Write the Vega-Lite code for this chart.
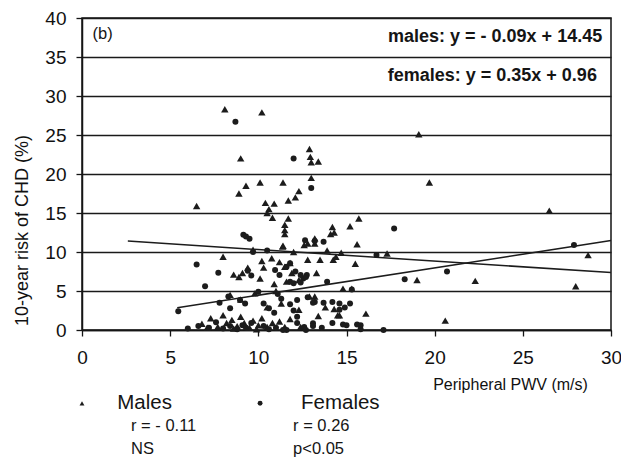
{
  "$schema": "https://vega.github.io/schema/vega-lite/v6.json",
  "width": 529,
  "height": 312,
  "autosize": "none",
  "padding": {"left": 82, "top": 18, "right": 10, "bottom": 136},
  "background": "white",
  "datasets": {
    "subjects": [
      {"sex": "Males", "pwv": 8.1, "risk": 28.3}, {"sex": "Males", "pwv": 10.2, "risk": 27.9},
      {"sex": "Males", "pwv": 9.0, "risk": 22.0}, {"sex": "Males", "pwv": 12.9, "risk": 23.2},
      {"sex": "Males", "pwv": 12.95, "risk": 22.2}, {"sex": "Males", "pwv": 13.0, "risk": 21.5},
      {"sex": "Males", "pwv": 13.4, "risk": 21.6}, {"sex": "Males", "pwv": 13.0, "risk": 19.5},
      {"sex": "Males", "pwv": 6.5, "risk": 15.9}, {"sex": "Males", "pwv": 8.9, "risk": 17.5},
      {"sex": "Males", "pwv": 9.3, "risk": 18.5}, {"sex": "Males", "pwv": 10.1, "risk": 18.9},
      {"sex": "Males", "pwv": 11.4, "risk": 18.9}, {"sex": "Males", "pwv": 11.7, "risk": 16.6},
      {"sex": "Males", "pwv": 12.1, "risk": 17.0}, {"sex": "Males", "pwv": 12.3, "risk": 17.8},
      {"sex": "Males", "pwv": 10.4, "risk": 16.3}, {"sex": "Males", "pwv": 10.9, "risk": 16.2},
      {"sex": "Males", "pwv": 10.6, "risk": 15.5}, {"sex": "Males", "pwv": 10.5, "risk": 15.0},
      {"sex": "Males", "pwv": 10.8, "risk": 14.4}, {"sex": "Males", "pwv": 11.7, "risk": 14.3},
      {"sex": "Males", "pwv": 11.5, "risk": 13.5}, {"sex": "Males", "pwv": 11.5, "risk": 12.8},
      {"sex": "Males", "pwv": 11.5, "risk": 12.3}, {"sex": "Males", "pwv": 14.2, "risk": 13.2},
      {"sex": "Males", "pwv": 14.3, "risk": 12.5}, {"sex": "Males", "pwv": 15.2, "risk": 13.3},
      {"sex": "Males", "pwv": 15.7, "risk": 14.3}, {"sex": "Males", "pwv": 15.6, "risk": 11.0},
      {"sex": "Males", "pwv": 11.4, "risk": 10.8}, {"sex": "Males", "pwv": 8.0, "risk": 9.4},
      {"sex": "Males", "pwv": 8.9, "risk": 6.8}, {"sex": "Males", "pwv": 19.1, "risk": 25.1},
      {"sex": "Males", "pwv": 19.7, "risk": 18.9}, {"sex": "Males", "pwv": 26.5, "risk": 15.3},
      {"sex": "Males", "pwv": 17.3, "risk": 9.8}, {"sex": "Males", "pwv": 19.0, "risk": 6.4},
      {"sex": "Males", "pwv": 22.3, "risk": 6.3}, {"sex": "Males", "pwv": 20.6, "risk": 1.2},
      {"sex": "Males", "pwv": 28.0, "risk": 5.6}, {"sex": "Males", "pwv": 28.7, "risk": 9.6},
      {"sex": "Males", "pwv": 16.1, "risk": 2.1}, {"sex": "Males", "pwv": 14.8, "risk": 5.3},
      {"sex": "Males", "pwv": 15.3, "risk": 5.3}, {"sex": "Males", "pwv": 14.4, "risk": 9.4},
      {"sex": "Males", "pwv": 14.6, "risk": 1.9}, {"sex": "Males", "pwv": 9.4, "risk": 8.0},
      {"sex": "Males", "pwv": 10.2, "risk": 8.85}, {"sex": "Males", "pwv": 10.3, "risk": 8.0},
      {"sex": "Males", "pwv": 10.76, "risk": 9.2}, {"sex": "Males", "pwv": 11.2, "risk": 8.7},
      {"sex": "Males", "pwv": 11.5, "risk": 8.1}, {"sex": "Males", "pwv": 11.8, "risk": 8.6},
      {"sex": "Males", "pwv": 11.38, "risk": 10.7}, {"sex": "Males", "pwv": 9.7, "risk": 10.3},
      {"sex": "Males", "pwv": 10.1, "risk": 6.6}, {"sex": "Males", "pwv": 10.9, "risk": 5.9},
      {"sex": "Males", "pwv": 11.6, "risk": 6.2}, {"sex": "Males", "pwv": 12.8, "risk": 9.0},
      {"sex": "Males", "pwv": 13.5, "risk": 9.0}, {"sex": "Males", "pwv": 14.25, "risk": 9.0},
      {"sex": "Males", "pwv": 13.3, "risk": 7.3}, {"sex": "Males", "pwv": 13.2, "risk": 11.75},
      {"sex": "Males", "pwv": 13.2, "risk": 11.1}, {"sex": "Males", "pwv": 14.1, "risk": 12.3},
      {"sex": "Males", "pwv": 15.5, "risk": 8.5}, {"sex": "Males", "pwv": 12.0, "risk": 10.0},
      {"sex": "Males", "pwv": 12.6, "risk": 10.9}, {"sex": "Males", "pwv": 11.9, "risk": 7.3},
      {"sex": "Males", "pwv": 12.3, "risk": 6.4}, {"sex": "Males", "pwv": 12.8, "risk": 11.1},
      {"sex": "Males", "pwv": 13.9, "risk": 10.2}, {"sex": "Males", "pwv": 14.7, "risk": 9.9},
      {"sex": "Males", "pwv": 8.6, "risk": 7.1}, {"sex": "Males", "pwv": 9.1, "risk": 7.3},
      {"sex": "Males", "pwv": 8.4, "risk": 4.5}, {"sex": "Males", "pwv": 9.0, "risk": 3.9},
      {"sex": "Males", "pwv": 9.8, "risk": 4.7}, {"sex": "Males", "pwv": 10.5, "risk": 2.9},
      {"sex": "Males", "pwv": 11.0, "risk": 5.0}, {"sex": "Males", "pwv": 11.3, "risk": 3.4},
      {"sex": "Males", "pwv": 12.3, "risk": 2.6}, {"sex": "Males", "pwv": 12.9, "risk": 4.3},
      {"sex": "Males", "pwv": 13.2, "risk": 4.3}, {"sex": "Males", "pwv": 13.8, "risk": 2.9},
      {"sex": "Males", "pwv": 14.3, "risk": 2.7}, {"sex": "Males", "pwv": 14.5, "risk": 1.9},
      {"sex": "Males", "pwv": 6.8, "risk": 0.8}, {"sex": "Males", "pwv": 7.3, "risk": 1.5},
      {"sex": "Males", "pwv": 7.7, "risk": 0.4}, {"sex": "Males", "pwv": 8.0, "risk": 1.9},
      {"sex": "Males", "pwv": 8.2, "risk": 0.9}, {"sex": "Males", "pwv": 8.5, "risk": 1.3},
      {"sex": "Males", "pwv": 8.8, "risk": 0.5}, {"sex": "Males", "pwv": 9.0, "risk": 1.7},
      {"sex": "Males", "pwv": 9.2, "risk": 0.9}, {"sex": "Males", "pwv": 9.5, "risk": 0.3},
      {"sex": "Males", "pwv": 9.7, "risk": 1.2}, {"sex": "Males", "pwv": 10.0, "risk": 0.6},
      {"sex": "Males", "pwv": 10.2, "risk": 1.5}, {"sex": "Males", "pwv": 10.5, "risk": 0.4},
      {"sex": "Males", "pwv": 10.8, "risk": 0.9}, {"sex": "Males", "pwv": 11.2, "risk": 1.1},
      {"sex": "Males", "pwv": 11.5, "risk": 0.4}, {"sex": "Males", "pwv": 11.8, "risk": 1.4},
      {"sex": "Males", "pwv": 12.4, "risk": 0.4}, {"sex": "Males", "pwv": 13.4, "risk": 1.8},
      {"sex": "Males", "pwv": 7.1, "risk": 0.3}, {"sex": "Males", "pwv": 8.6, "risk": 0.2},
      {"sex": "Males", "pwv": 9.9, "risk": 0.1},
      {"sex": "Females", "pwv": 8.7, "risk": 26.7}, {"sex": "Females", "pwv": 12.0, "risk": 22.0},
      {"sex": "Females", "pwv": 13.0, "risk": 18.2}, {"sex": "Females", "pwv": 17.7, "risk": 13.0},
      {"sex": "Females", "pwv": 27.9, "risk": 10.9}, {"sex": "Females", "pwv": 18.3, "risk": 6.5},
      {"sex": "Females", "pwv": 20.7, "risk": 7.5}, {"sex": "Females", "pwv": 16.7, "risk": 9.6},
      {"sex": "Females", "pwv": 17.1, "risk": 0.0}, {"sex": "Females", "pwv": 15.0, "risk": 0.6},
      {"sex": "Females", "pwv": 15.8, "risk": 0.6}, {"sex": "Females", "pwv": 15.8, "risk": 0.1},
      {"sex": "Females", "pwv": 15.2, "risk": 3.4}, {"sex": "Females", "pwv": 14.9, "risk": 2.9},
      {"sex": "Females", "pwv": 14.6, "risk": 2.6}, {"sex": "Females", "pwv": 15.3, "risk": 5.2},
      {"sex": "Females", "pwv": 9.15, "risk": 12.2}, {"sex": "Females", "pwv": 9.5, "risk": 11.7},
      {"sex": "Females", "pwv": 9.3, "risk": 12.0}, {"sex": "Females", "pwv": 6.5, "risk": 8.4},
      {"sex": "Females", "pwv": 7.73, "risk": 7.35}, {"sex": "Females", "pwv": 6.98, "risk": 5.6},
      {"sex": "Females", "pwv": 5.46, "risk": 2.4}, {"sex": "Females", "pwv": 12.65, "risk": 11.5},
      {"sex": "Females", "pwv": 13.2, "risk": 11.4}, {"sex": "Females", "pwv": 13.7, "risk": 11.3},
      {"sex": "Females", "pwv": 12.55, "risk": 6.6}, {"sex": "Females", "pwv": 12.75, "risk": 7.05},
      {"sex": "Females", "pwv": 12.2, "risk": 3.85}, {"sex": "Females", "pwv": 13.2, "risk": 3.6},
      {"sex": "Females", "pwv": 13.7, "risk": 3.5}, {"sex": "Females", "pwv": 14.2, "risk": 3.6},
      {"sex": "Females", "pwv": 14.6, "risk": 3.4}, {"sex": "Females", "pwv": 13.1, "risk": 0.85},
      {"sex": "Females", "pwv": 12.6, "risk": 0.4}, {"sex": "Females", "pwv": 14.8, "risk": 0.7},
      {"sex": "Females", "pwv": 15.6, "risk": 0.7}, {"sex": "Females", "pwv": 9.7, "risk": 10.0},
      {"sex": "Females", "pwv": 9.4, "risk": 7.6}, {"sex": "Females", "pwv": 9.6, "risk": 7.0},
      {"sex": "Females", "pwv": 10.95, "risk": 7.7}, {"sex": "Females", "pwv": 11.2, "risk": 7.05},
      {"sex": "Females", "pwv": 11.6, "risk": 8.1}, {"sex": "Females", "pwv": 11.8, "risk": 8.55},
      {"sex": "Females", "pwv": 12.1, "risk": 7.5}, {"sex": "Females", "pwv": 12.4, "risk": 7.05},
      {"sex": "Females", "pwv": 12.7, "risk": 6.8}, {"sex": "Females", "pwv": 12.4, "risk": 6.1},
      {"sex": "Females", "pwv": 11.8, "risk": 6.2}, {"sex": "Females", "pwv": 12.0, "risk": 6.0},
      {"sex": "Females", "pwv": 8.3, "risk": 4.3}, {"sex": "Females", "pwv": 8.96, "risk": 3.85},
      {"sex": "Females", "pwv": 9.25, "risk": 3.4}, {"sex": "Females", "pwv": 10.0, "risk": 4.9},
      {"sex": "Females", "pwv": 10.3, "risk": 3.4}, {"sex": "Females", "pwv": 10.6, "risk": 2.8},
      {"sex": "Females", "pwv": 10.9, "risk": 2.2}, {"sex": "Females", "pwv": 11.1, "risk": 4.6},
      {"sex": "Females", "pwv": 11.3, "risk": 4.0}, {"sex": "Females", "pwv": 11.8, "risk": 3.3},
      {"sex": "Females", "pwv": 12.0, "risk": 2.5}, {"sex": "Females", "pwv": 12.2, "risk": 1.7},
      {"sex": "Females", "pwv": 12.8, "risk": 4.2}, {"sex": "Females", "pwv": 13.1, "risk": 3.5},
      {"sex": "Females", "pwv": 13.1, "risk": 0.5}, {"sex": "Females", "pwv": 12.7, "risk": 0.0},
      {"sex": "Females", "pwv": 11.6, "risk": 0.0}, {"sex": "Females", "pwv": 8.4, "risk": 2.8},
      {"sex": "Females", "pwv": 7.8, "risk": 3.5}, {"sex": "Females", "pwv": 6.0, "risk": 0.2},
      {"sex": "Females", "pwv": 6.6, "risk": 0.5}, {"sex": "Females", "pwv": 7.2, "risk": 0.3},
      {"sex": "Females", "pwv": 7.6, "risk": 1.0}, {"sex": "Females", "pwv": 8.0, "risk": 0.2},
      {"sex": "Females", "pwv": 8.4, "risk": 0.5}, {"sex": "Females", "pwv": 8.8, "risk": 0.1},
      {"sex": "Females", "pwv": 9.1, "risk": 0.6}, {"sex": "Females", "pwv": 9.3, "risk": 0.3},
      {"sex": "Females", "pwv": 9.6, "risk": 0.9}, {"sex": "Females", "pwv": 10.3, "risk": 0.5},
      {"sex": "Females", "pwv": 10.6, "risk": 0.1}, {"sex": "Females", "pwv": 11.0, "risk": 0.3},
      {"sex": "Females", "pwv": 11.4, "risk": 0.0}, {"sex": "Females", "pwv": 12.2, "risk": 0.9},
      {"sex": "Females", "pwv": 13.6, "risk": 0.3}, {"sex": "Females", "pwv": 14.2, "risk": 0.9},
      {"sex": "Females", "pwv": 10.5, "risk": 10.2}, {"sex": "Females", "pwv": 13.9, "risk": 6.2}
    ],
    "fits": [
      {"sex": "Males", "pwv": 2.6, "risk": 11.4},
      {"sex": "Males", "pwv": 30, "risk": 7.36},
      {"sex": "Females", "pwv": 5.4, "risk": 2.85},
      {"sex": "Females", "pwv": 30, "risk": 11.46}
    ],
    "equations": [
      {"label": "males: y = - 0.09x + 14.45", "pwv": 29.5, "risk": 37.6},
      {"label": "females: y = 0.35x + 0.96", "pwv": 29.2, "risk": 32.6}
    ],
    "panel": [
      {"label": "(b)", "pwv": 0.6, "risk": 38.0}
    ],
    "keys": [
      {"sex": "Males", "pwv": 0, "risk": -9.4},
      {"sex": "Females", "pwv": 10.1, "risk": -9.4}
    ],
    "keyNames": [
      {"label": "Males", "pwv": 2.0, "risk": -9.4},
      {"label": "Females", "pwv": 12.42, "risk": -9.4}
    ],
    "keyStats": [
      {"label": "r = - 0.11", "pwv": 2.78, "risk": -12.3},
      {"label": "r = 0.26", "pwv": 11.97, "risk": -12.3},
      {"label": "NS", "pwv": 2.78, "risk": -15.2},
      {"label": "p<0.05", "pwv": 11.97, "risk": -15.2}
    ]
  },
  "config": {
    "font": "Liberation Sans",
    "view": {"stroke": "#151515", "strokeWidth": 1.5},
    "axis": {
      "domainColor": "#151515",
      "domainWidth": 1.5,
      "tickColor": "#151515",
      "tickWidth": 1.3,
      "tickSize": 6,
      "labelColor": "#111111",
      "labelFontSize": 19,
      "labelFlush": false,
      "labelOverlap": false,
      "titleColor": "#111111",
      "titleFontWeight": "normal"
    }
  },
  "encoding": {
    "x": {
      "field": "pwv", "type": "quantitative",
      "scale": {"domain": [0, 30], "nice": false, "zero": false},
      "axis": {
        "values": [0, 5, 10, 15, 20, 25, 30],
        "grid": false,
        "labelPadding": 12,
        "title": "Peripheral PWV (m/s)",
        "titleColor": "#111111",
        "titleFontSize": 16,
        "titleX": 428,
        "titleY": 54,
        "titleAlign": "center",
        "titleBaseline": "middle"
      }
    },
    "y": {
      "field": "risk", "type": "quantitative",
      "scale": {"domain": [0, 40], "nice": false},
      "axis": {
        "values": [0, 5, 10, 15, 20, 25, 30, 35, 40],
        "grid": true,
        "gridColor": "#1a1a1a",
        "gridWidth": 1.4,
        "gridOpacity": 1,
        "labelPadding": 10,
        "title": "10-year risk of CHD (%)",
        "titleColor": "#111111",
        "titleFontSize": 18,
        "titleX": -60,
        "titleY": 212,
        "titleAngle": -90,
        "titleAlign": "center",
        "titleBaseline": "middle"
      }
    }
  },
  "layer": [
    {
      "data": {"name": "subjects"},
      "mark": {"type": "point", "filled": true, "opacity": 1, "color": "#1c1c1c"},
      "encoding": {
        "shape": {
          "field": "sex", "type": "nominal",
          "scale": {"domain": ["Males", "Females"], "range": ["triangle-up", "circle"]},
          "legend": null
        },
        "size": {
          "field": "sex", "type": "nominal",
          "scale": {"domain": ["Males", "Females"], "range": [55, 36]},
          "legend": null
        }
      }
    },
    {
      "data": {"name": "fits"},
      "mark": {"type": "line", "color": "#1c1c1c", "strokeWidth": 1.5},
      "encoding": {
        "detail": {"field": "sex", "type": "nominal"}
      }
    },
    {
      "data": {"name": "equations"},
      "mark": {"type": "text", "align": "right", "baseline": "middle", "fontWeight": "bold", "fontSize": 18, "color": "#151515"},
      "encoding": {"text": {"field": "label"}}
    },
    {
      "data": {"name": "panel"},
      "mark": {"type": "text", "align": "left", "baseline": "middle", "fontSize": 16.5, "color": "#151515"},
      "encoding": {"text": {"field": "label"}}
    },
    {
      "data": {"name": "keys"},
      "mark": {"type": "point", "filled": true, "opacity": 1, "color": "#1c1c1c", "size": 24},
      "encoding": {
        "shape": {"field": "sex", "type": "nominal", "legend": null}
      }
    },
    {
      "data": {"name": "keyNames"},
      "mark": {"type": "text", "align": "left", "baseline": "middle", "fontSize": 20.5, "color": "#151515"},
      "encoding": {"text": {"field": "label"}}
    },
    {
      "data": {"name": "keyStats"},
      "mark": {"type": "text", "align": "left", "baseline": "middle", "fontSize": 16.5, "color": "#151515"},
      "encoding": {"text": {"field": "label"}}
    }
  ]
}
